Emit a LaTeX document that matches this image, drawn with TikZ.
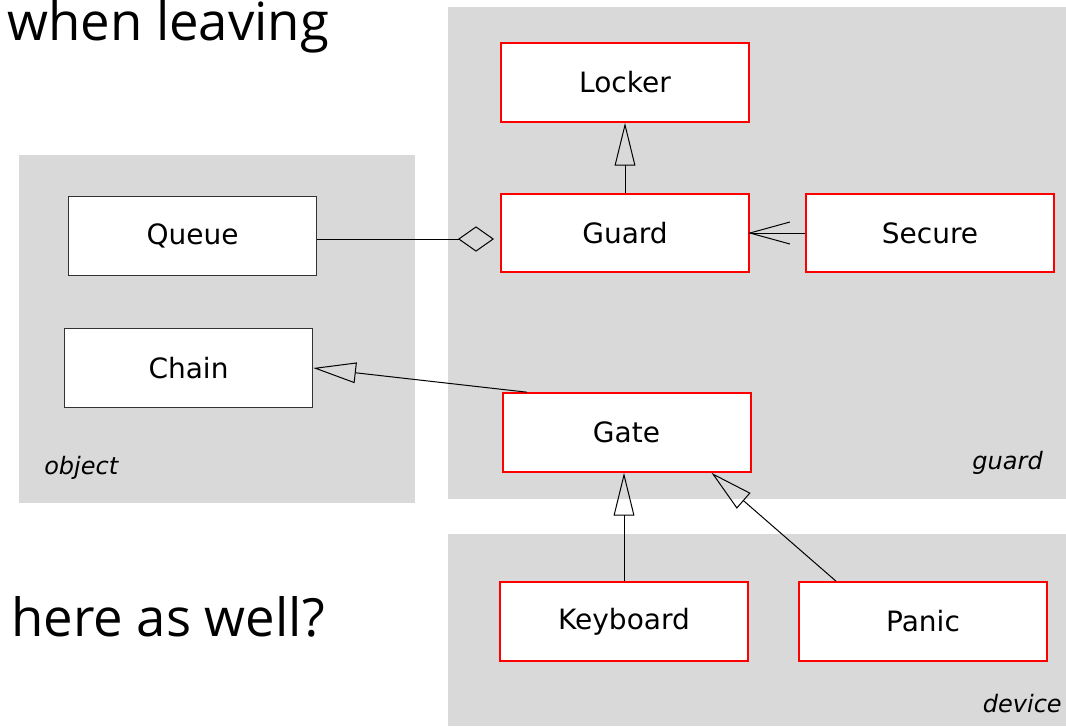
\documentclass[tikz,border=0pt]{standalone}
\usepackage{fontspec}
\setmainfont{DejaVu Sans}
\newfontfamily\osans{Open Sans}
\usetikzlibrary{arrows.meta}
\definecolor{grp}{HTML}{D9D9D9}
\begin{document}
\begin{tikzpicture}[x=0.75pt,y=-0.75pt,
  cls/.style={draw=red,line width=1.5pt,fill=white,minimum width=186pt,minimum height=59pt,inner sep=0pt,font=\fontsize{21}{24}\selectfont},
  plain/.style={draw=black!80,line width=0.75pt,fill=white,minimum width=186.5pt,minimum height=59.5pt,inner sep=0pt,font=\fontsize{21}{24}\selectfont},
  grplabel/.style={font=\fontsize{18}{22}\selectfont\itshape,inner sep=0pt},
  big/.style={font=\osans\fontsize{39.5}{44}\selectfont,inner sep=0pt},
  conn/.style={line width=0.75pt},
  inh/.style={conn,-{Triangle[open,length=32pt,width=15.5pt]}},
  dep/.style={conn,-{Straight Barb[length=30pt,width=16.5pt]}},
  agg/.style={conn,-{Diamond[open,length=27pt,width=19pt]}}]
\useasboundingbox (0,0) rectangle (1066,726);
% groups
\fill[grp] (19,155) rectangle (415,503);
\fill[grp] (448,7) rectangle (1066,499);
\fill[grp] (448,534) rectangle (1066,726);
\node[grplabel,anchor=base west] (lobj) at (44,474) {object};
\node[grplabel,anchor=base east] (lgrd) at (1043,469) {guard};
\node[grplabel,anchor=base east] (ldev) at (1062,712) {device};
% big texts
\node[big,anchor=base west] (t1) at (7,40) {when leaving};
\node[big,anchor=base west] (t2) at (11,636) {here as well?};
% classes
\node[cls] (Locker) at (625,82.5) {Locker};
\node[cls] (Guard) at (625,233) {Guard};
\node[cls] (Secure) at (930,233) {Secure};
\node[plain] (Queue) at (192.5,236) {Queue};
\node[plain] (Chain) at (188.5,368) {Chain};
\node[cls] (Gate) at (626.5,432.5) {Gate};
\node[cls] (Keyboard) at (624,621.5) {Keyboard};
\node[cls] (Panic) at (923,621.5) {Panic};
% connectors
\draw[inh] (Guard.north) -- (Locker.south);
\draw[agg] ([yshift=-2.25pt]Queue.east) -- ([xshift=-4.5pt,yshift=-4.5pt]Guard.west);
\draw[dep] (Secure.west) -- ([xshift=-1.5pt]Guard.east);
\draw[inh] ([xshift=19pt]Gate.north west) -- (Chain.east);
\draw[inh] (Keyboard.north) -- (Keyboard.north |- Gate.south);
\draw[inh] ([xshift=28.5pt]Panic.north west) -- ([xshift=-30pt]Gate.south east);
\end{tikzpicture}
\end{document}
